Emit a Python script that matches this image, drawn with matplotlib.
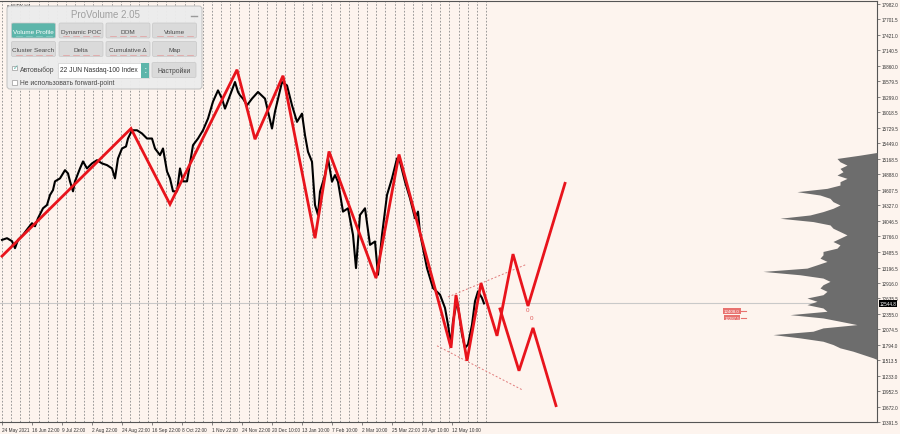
import numpy as np
import matplotlib.pyplot as plt
from matplotlib.patches import FancyBboxPatch, Rectangle
import matplotlib.transforms as mtransforms

plt.rcParams['font.family'] = ['Liberation Sans', 'DejaVu Sans']

# Price path (bar index, close price)
bars = [2, 7, 12, 15, 18, 23, 28, 32, 35, 38, 43, 47, 50, 53, 55, 60, 65, 68, 70, 73,
        75, 80, 83, 87, 92, 97, 102, 107, 112, 115, 118, 122, 126, 128, 132, 137, 142, 147,
        152, 155, 160, 163, 167, 170, 173, 177, 180, 183, 187, 190, 193, 198, 203, 208,
        213, 218, 222, 225, 230, 235, 238, 240, 243, 247, 252, 258, 265, 272, 275, 282,
        287, 292, 297, 302, 305, 308, 312, 315, 318, 320, 325, 328, 332, 335, 338, 343,
        348, 353, 356, 360, 365, 370, 375, 378, 382, 387, 392, 397, 400, 405, 410, 415,
        418, 420, 424, 427, 430, 433, 440, 445, 448, 451, 453, 457, 459, 462, 465, 468,
        472, 475, 478, 482, 484]
close = [13698, 13729, 13675, 13548, 13698, 13789, 13910, 14001, 13946, 14091, 14272,
         14332, 14513, 14603, 14761, 14815, 14965, 14905, 14761, 14580, 14761, 14996,
         15123, 14996, 15087, 15146, 15087, 15056, 14996, 14815, 15177, 15358, 15394,
         15539, 15689, 15689, 15630, 15539, 15539, 15358, 15237, 15358, 14942, 14815,
         14580, 14580, 14996, 14761, 14761, 15087, 15418, 15539, 15689, 15901, 16209,
         16413, 16263, 16082, 16323, 16565, 16384, 16323, 16263, 16142, 16263, 16384,
         16263, 15720, 16028, 16565, 16503, 16142, 15841, 15991, 15599, 15298, 15117,
         14332, 14151, 14574, 14875, 15177, 14755, 14875, 14755, 14212, 14272, 13789,
         13186, 14151, 14272, 13608, 13669, 13065, 13789, 14513, 14815, 15177, 15117,
         14755, 14453, 14091, 14212, 13820, 13458, 13186, 13005, 12824, 12704, 12462,
         12160, 11798, 12222, 12584, 12372, 11979, 11738, 11798, 12160, 12584, 12764,
         12643, 12545]
last_price = 12544.8

# Wave markup (red zigzag)
wave_bars = [2, 131, 170, 237, 255, 283, 315, 329, 376, 399, 451, 456, 467, 481, 497, 513, 528, 565]
wave_price = [13403, 15720, 14345, 16788, 15526, 16679, 13729, 15304, 13005, 15249, 11738,
              12698, 11503, 12915, 11956, 13440, 12498, 14725]
alt_bars = [500, 519, 533, 556]
alt_price = [12444, 11322, 12100, 10689]
chan_up_bars = [448, 527]
chan_up_price = [12661, 13258]
chan_lo_bars = [437, 522]
chan_lo_price = [11775, 10978]

# Volume profile (price level, volume)
vp_price = [15286, 15237, 15177, 15117, 15056, 14996, 14936, 14875, 14815, 14755, 14694,
            14634, 14574, 14513, 14453, 14393, 14332, 14272, 14212, 14151, 14091, 14031,
            13970, 13910, 13850, 13789, 13729, 13669, 13608, 13548, 13488, 13427, 13367,
            13307, 13246, 13186, 13126, 13065, 13005, 12945, 12884, 12824, 12764, 12703,
            12643, 12583, 12522, 12462, 12402, 12341, 12281, 12221, 12160, 12100, 12040,
            11979, 11919, 11858, 11798, 11738, 11677, 11617, 11557, 11527]
vp_vol = [0, 17, 40, 37, 30, 37, 34, 40, 30, 37, 37, 50, 80, 57, 47, 44, 37, 44, 54, 67,
          97, 64, 47, 44, 37, 30, 37, 44, 37, 40, 54, 54, 57, 50, 60, 70, 114, 77, 54, 47,
          54, 57, 50, 54, 70, 60, 70, 54, 50, 87, 54, 37, 20, 54, 64, 104, 77, 54, 44, 37,
          24, 14, 4, 0]

level_prices = [12408, 12287]
level_labels = ['12408.0', '12287.5']

y_ticks = [17982.0, 17701.5, 17421.0, 17140.5, 16860.0, 16579.5, 16299.0, 16018.5, 15729.5,
           15449.0, 15168.5, 14888.0, 14607.5, 14327.0, 14046.5, 13766.0, 13485.5, 13196.5,
           12916.0, 12635.5, 12355.0, 12074.5, 11794.0, 11513.5, 11233.0, 10952.5, 10672.0,
           10391.5]
date_ticks = [2, 32, 62, 92, 122, 152, 182, 212, 242, 272, 302, 332, 362, 392, 422, 452]
date_labels = ['24 May 2021', '16 Jun 22:00', '9 Jul 22:00', '2 Aug 22:00', '24 Aug 22:00',
               '16 Sep 22:00', '8 Oct 22:00', '1 Nov 22:00', '24 Nov 22:00', '20 Dec 10:00',
               '13 Jan 10:00', '7 Feb 10:00', '2 Mar 10:00', '25 Mar 22:00', '20 Apr 10:00',
               '12 May 10:00']

bg = '#fdf4ee'
fig = plt.figure(figsize=(9, 4.35), dpi=100, facecolor=bg)
ax = fig.add_axes([0, 12 / 435, 877 / 900, 421 / 435], facecolor=bg)
ax.set_xlim(0, 877)
ax.set_ylim(10417, 18036)

# weekly separators
for wx in np.arange(2, 488, 9.13):
    ax.axvline(wx, color='#8a8a8a', lw=0.6, ls=(0, (2, 2)), zorder=1)

ax.axhline(last_price, color='#c9c9c9', lw=0.8, zorder=1)

# volume profile on a twin axis anchored at the right edge
ax2 = ax.twiny()
ax2.set_xlim(877, 0)
ax2.fill_betweenx(vp_price, 0, vp_vol, color='#6d6d6d', lw=0, zorder=2)
ax2.set_xticks([])
for s in ax2.spines.values():
    s.set_visible(False)

ax.plot(bars, close, color='black', lw=1.5, zorder=3)
ax.plot(wave_bars, wave_price, color='#e8141c', lw=2, zorder=4, solid_joinstyle='miter')
ax.plot(alt_bars, alt_price, color='#e8141c', lw=2, zorder=4, solid_joinstyle='miter')
ax.plot(chan_up_bars, chan_up_price, color='#e07a7a', lw=0.7, ls=(0, (2, 2)), zorder=3)
ax.plot(chan_lo_bars, chan_lo_price, color='#e07a7a', lw=0.7, ls=(0, (2, 2)), zorder=3)
ax.text(528, 12426, '0', color='#e05a5a', fontsize=4.5, ha='center', va='center', zorder=5)
ax.text(532, 12281, '0', color='#e05a5a', fontsize=4.5, ha='center', va='center', zorder=5)

for p, lab in zip(level_prices, level_labels):
    ax.plot([741, 746], [p, p], color='#e8726f', lw=0.8, zorder=5)
    ax.text(732, p, lab, color='white', fontsize=3.2, ha='center', va='center', zorder=6,
            bbox=dict(boxstyle='square,pad=0.15', fc='#e8726f', ec='none'))

ax.yaxis.tick_right()
ax.set_yticks(y_ticks)
ax.set_yticklabels([f'{v:.1f}' for v in y_ticks], fontsize=3.3, color='#333333')
ax.tick_params(axis='y', length=2, width=0.5, pad=1.5, colors='#555555')
ax.set_xticks(date_ticks)
ax.set_xticklabels(date_labels, fontsize=3.4, color='#333333', ha='left')
ax.tick_params(axis='x', length=2, width=0.5, pad=1.5, colors='#555555')
for lab in ax.get_yticklabels() + ax.get_xticklabels():
    lab.set_color('#333333')
for side in ['right', 'bottom', 'top']:
    ax.spines[side].set_color('#555555')
    ax.spines[side].set_linewidth(0.8)
ax.spines['left'].set_visible(False)

trans = mtransforms.blended_transform_factory(ax.transAxes, ax.transData)
ax.text(1.003, last_price, f'{last_price:.1f}', transform=trans, fontsize=3.3, color='white',
        ha='left', va='center', zorder=6,
        bbox=dict(boxstyle='square,pad=0.2', fc='black', ec='none'))
ax.text(0.008, 0.997, '▾ #NDX,H4', transform=ax.transAxes, fontsize=3.3, color='#333333',
        ha='left', va='top')

# ProVolume panel overlay (pixel coordinates)
pax = fig.add_axes([0, 0, 1, 1], zorder=10)
pax.set_xlim(0, 900)
pax.set_ylim(435, 0)
pax.axis('off')
pax.patch.set_visible(False)
pax.add_patch(FancyBboxPatch((7, 7), 195, 83, boxstyle='round,pad=0,rounding_size=3',
                             fc='#ececec', ec='#c4c4c4', lw=0.8, alpha=0.96))
pax.text(105, 14.5, 'ProVolume 2.05', fontsize=7, color='#a0a0a0', ha='center', va='center')
pax.plot([191, 197], [16.5, 16.5], color='#9a9a9a', lw=1)

row1 = ['Volume Profile', 'Dynamic POC', 'DOM', 'Volume']
row2 = ['Cluster Search', 'Delta', 'Cumulative Δ', 'Map']
bx = [11.5, 59, 106, 152.5]
for r, (names, top) in enumerate([(row1, 24), (row2, 42.5)]):
    for i, name in enumerate(names):
        active = (r == 0 and i == 0)
        pax.add_patch(FancyBboxPatch((bx[i], top), 44, 15,
                                     boxstyle='round,pad=0,rounding_size=1.5',
                                     fc='#5db5aa' if active else '#dadada',
                                     ec='#c8c8c8', lw=0.5))
        pax.text(bx[i] + 22, top + 8.3, name, fontsize=4.6,
                 color='white' if active else '#4a4a4a', ha='center', va='center')
        for k in range(4):
            pax.plot([bx[i] + 4 + k * 10, bx[i] + 10 + k * 10], [top + 13.3, top + 13.3],
                     color='#e39a9a' if not active else '#8ed1c8', lw=0.5)

pax.add_patch(Rectangle((12.3, 66.5), 4.5, 4.5, fc='white', ec='#9a9a9a', lw=0.5))
pax.text(13, 68, '✓', fontsize=5, color='#5db5aa', ha='left', va='center',
         family='DejaVu Sans')
pax.text(19.5, 70.5, 'Автовыбор', fontsize=4.9, color='#4a4a4a', ha='left', va='center')
pax.add_patch(Rectangle((57.5, 63.5), 91, 15, fc='white', ec='#d0d0d0', lw=0.5))
pax.text(60.5, 71, '22 JUN Nasdaq-100 Index', fontsize=4.8, color='#333333', ha='left',
         va='center')
pax.add_patch(Rectangle((140.5, 63.5), 8, 15, fc='#5db5aa', ec='none'))
pax.text(144.5, 71, '⌃\n⌄', fontsize=3, color='white', ha='center', va='center',
         linespacing=0.6, family='DejaVu Sans')
pax.add_patch(FancyBboxPatch((152, 63.5), 44, 15, boxstyle='round,pad=0,rounding_size=1.5',
                             fc='#dadada', ec='#c8c8c8', lw=0.5))
pax.text(174, 71, 'Настройки', fontsize=4.9, color='#4a4a4a', ha='center', va='center')
pax.add_patch(Rectangle((11.7, 81), 5, 5, fc='white', ec='#9a9a9a', lw=0.5))
pax.text(19.5, 83.7, 'Не использовать forward-point', fontsize=4.9, color='#4a4a4a',
         ha='left', va='center')

fig.savefig('out.png', dpi=100, facecolor=bg)
